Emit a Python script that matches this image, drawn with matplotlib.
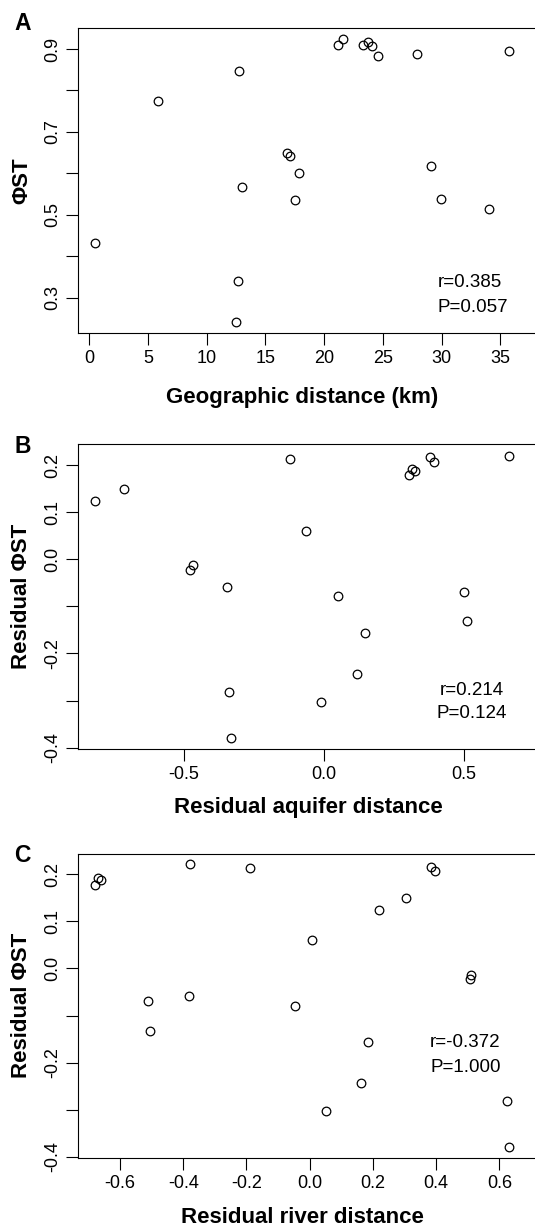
import numpy as np
import matplotlib
matplotlib.use("Agg")
import matplotlib.pyplot as plt
from matplotlib.ticker import FixedLocator, FixedFormatter

plt.rcParams["font.family"] = ["Liberation Sans", "DejaVu Sans"]

W, H = 535, 1226

# Panel A: geographic distance vs PhiST
geo_km = [21.2, 21.63, 23.33, 23.70, 24.10, 24.58, 27.87, 35.74, 12.77, 5.85,
          16.86, 17.12, 17.83, 13.0, 17.51, 29.07, 29.95, 34.0, 0.48, 12.69, 12.52]
phist = [0.910, 0.923, 0.910, 0.918, 0.907, 0.883, 0.888, 0.896, 0.846, 0.775,
         0.650, 0.643, 0.602, 0.568, 0.536, 0.618, 0.538, 0.515, 0.433, 0.340, 0.242]

# Panel B: residual aquifer distance vs residual PhiST
aq_resid = [-0.816, -0.711, -0.119, -0.064, -0.468, -0.476, -0.345, 0.050, 0.146,
            0.118, -0.011, -0.337, -0.331, 0.303, 0.316, 0.326, 0.380, 0.394,
            0.661, 0.501, 0.511]
phist_resid_b = [0.124, 0.149, 0.213, 0.059, -0.013, -0.023, -0.058, -0.079, -0.156,
                 -0.244, -0.303, -0.282, -0.379, 0.178, 0.192, 0.188, 0.216, 0.207,
                 0.220, -0.069, -0.132]

# Panel C: residual river distance vs residual PhiST
riv_resid = [-0.680, -0.669, -0.659, -0.377, -0.190, 0.384, 0.396, 0.305, 0.218,
             0.007, 0.512, 0.506, -0.511, -0.382, -0.504, -0.047, 0.185, 0.161,
             0.053, 0.625, 0.630]
phist_resid_c = [0.178, 0.193, 0.188, 0.221, 0.213, 0.216, 0.207, 0.149, 0.124,
                 0.060, -0.013, -0.022, -0.069, -0.058, -0.132, -0.079, -0.156,
                 -0.244, -0.303, -0.282, -0.378]

panels = [
    dict(x=geo_km, y=phist, letter="A",
         xlabel="Geographic distance (km)", ylabel=r"ΦST",
         xticks=[0, 5, 10, 15, 20, 25, 30, 35],
         xticklabels=["0", "5", "10", "15", "20", "25", "30", "35"],
         yticks=[0.3, 0.4, 0.5, 0.6, 0.7, 0.8, 0.9],
         yticklabels=["0.3", "", "0.5", "", "0.7", "", "0.9"],
         stats=["r=0.385", "P=0.057"]),
    dict(x=aq_resid, y=phist_resid_b, letter="B",
         xlabel="Residual aquifer distance", ylabel="Residual ΦST",
         xticks=[-0.5, 0.0, 0.5],
         xticklabels=["-0.5", "0.0", "0.5"],
         yticks=[-0.4, -0.3, -0.2, -0.1, 0.0, 0.1, 0.2],
         yticklabels=["-0.4", "", "-0.2", "", "0.0", "0.1", "0.2"],
         stats=["r=0.214", "P=0.124"]),
    dict(x=riv_resid, y=phist_resid_c, letter="C",
         xlabel="Residual river distance", ylabel="Residual ΦST",
         xticks=[-0.6, -0.4, -0.2, 0.0, 0.2, 0.4, 0.6],
         xticklabels=["-0.6", "-0.4", "-0.2", "0.0", "0.2", "0.4", "0.6"],
         yticks=[-0.4, -0.3, -0.2, -0.1, 0.0, 0.1, 0.2],
         yticklabels=["-0.4", "", "-0.2", "", "0.0", "0.1", "0.2"],
         stats=["r=-0.372", "P=1.000"]),
]

# layout (pixels): axes top/bottom, limits, text anchors
layout = [
    dict(top=28.3, bot=332.7, xlim=(-0.937, 38.12), ylim=(0.2156, 0.95),
         letter_xy=(14, 30), xlab_xy=(302, 403), ylab_x=22,
         stat_xy=[(437.7, 286.7), (437.7, 311.7)]),
    dict(top=444.3, bot=748.7, xlim=(-0.8757, 0.7604), ylim=(-0.4023, 0.244),
         letter_xy=(15, 453.3), xlab_xy=(308, 813.3), ylab_x=22,
         stat_xy=[(439.3, 695.3), (437.0, 718.3)]),
    dict(top=853.7, bot=1158.0, xlim=(-0.7318, 0.7192), ylim=(-0.4023, 0.2437),
         letter_xy=(14, 861.5), xlab_xy=(302, 1223.3), ylab_x=22,
         stat_xy=[(430.0, 1047.3), (430.0, 1071.7)]),
]

LEFT, RIGHT = 78.3, 537.0
TICK_FS = 13
LAB_FS = 16

fig = plt.figure(figsize=(W / 100, H / 100), dpi=100)

for p, lay in zip(panels, layout):
    ax = fig.add_axes([LEFT / W, 1 - lay["bot"] / H,
                       (RIGHT - LEFT) / W, (lay["bot"] - lay["top"]) / H])
    ax.plot(p["x"], p["y"], "o", mfc="none", mec="black", ms=6.2, mew=0.9,
            linestyle="none")
    ax.set_xlim(*lay["xlim"])
    ax.set_ylim(*lay["ylim"])

    ax.xaxis.set_major_locator(FixedLocator(p["xticks"]))
    ax.xaxis.set_major_formatter(FixedFormatter(p["xticklabels"]))
    ax.yaxis.set_major_locator(FixedLocator(p["yticks"]))
    ax.yaxis.set_major_formatter(FixedFormatter(p["yticklabels"]))
    ax.tick_params(direction="out", length=8.5, width=0.8, labelsize=TICK_FS,
                   pad=4)
    for lbl in ax.get_yticklabels():
        lbl.set_rotation(90)
        lbl.set_va("center")
    for s in ax.spines.values():
        s.set_linewidth(0.8)

    yc = 1 - (lay["top"] + lay["bot"]) / 2 / H
    fig.text(lay["ylab_x"] / W, yc, p["ylabel"], rotation=90, ha="center",
             va="center", fontsize=LAB_FS, fontweight="bold")
    fig.text(lay["xlab_xy"][0] / W, 1 - lay["xlab_xy"][1] / H, p["xlabel"],
             ha="center", va="baseline", fontsize=LAB_FS, fontweight="bold")
    fig.text(lay["letter_xy"][0] / W, 1 - lay["letter_xy"][1] / H, p["letter"],
             ha="left", va="baseline", fontsize=16.5, fontweight="bold")
    for txt, (tx, ty) in zip(p["stats"], lay["stat_xy"]):
        fig.text(tx / W, 1 - ty / H, txt, ha="left", va="baseline",
                 fontsize=13.5)

fig.savefig("out.png", dpi=100)
